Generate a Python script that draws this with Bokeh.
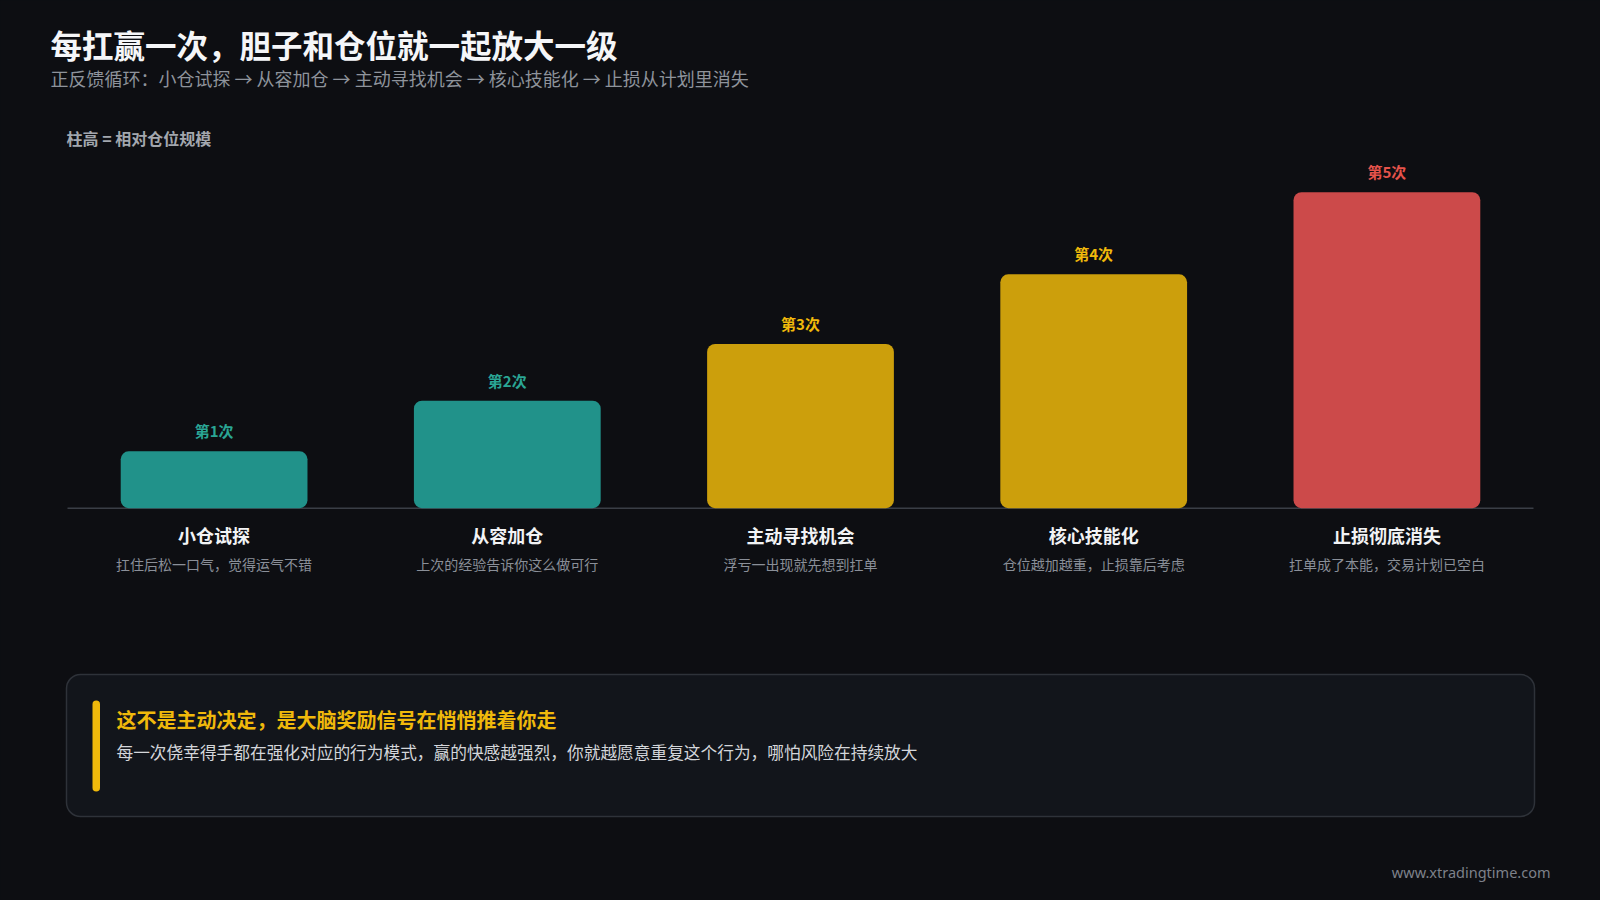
from bokeh.plotting import figure
from bokeh.models import (ColumnDataSource, Range1d, FactorRange, Label, BoxAnnotation,
                          GlobalInlineStyleSheet)
from bokeh.core.properties import value
from bokeh.embed import file_html
from bokeh.resources import INLINE

# ---------------- data ----------------
stages = ["小仓试探", "从容加仓", "主动寻找机会", "核心技能化", "止损彻底消失"]
position_size = [18, 34, 52, 74, 100]
win_labels = ["第1次", "第2次", "第3次", "第4次", "第5次"]
descriptions = ["扛住后松一口气，觉得运气不错", "上次的经验告诉你这么做可行",
                "浮亏一出现就先想到扛单", "仓位越加越重，止损靠后考虑",
                "扛单成了本能，交易计划已空白"]
bar_colors = ["#21928a", "#21928a", "#cc9f0c", "#cc9f0c", "#cc4a4a"]
label_colors = ["#2aa594", "#2aa594", "#f0b90b", "#f0b90b", "#e5534b"]

title = "每扛赢一次，胆子和仓位就一起放大一级"
subtitle = "正反馈循环：小仓试探 → 从容加仓 → 主动寻找机会 → 核心技能化 → 止损从计划里消失"
axis_note = "柱高 = 相对仓位规模"
callout_head = "这不是主动决定，是大脑奖励信号在悄悄推着你走"
callout_body = "每一次侥幸得手都在强化对应的行为模式，赢的快感越强烈，你就越愿意重复这个行为，哪怕风险在持续放大"
watermark = "www.xtradingtime.com"

# ---------------- layout ----------------
W, H = 1600, 900
BG = "#0d0e12"
FONT = "Noto Sans CJK SC"

def Y(y):  # top-down pixel -> screen units measured from bottom
    return H - y

baseline_px = 507.7
px_per_unit = 3.16
vstart = -(H - baseline_px) / px_per_unit
vend = baseline_px / px_per_unit
side_pad = 67 / 293.2

p = figure(width=W, height=H, output_backend="svg", toolbar_location=None,
           x_range=FactorRange(factors=stages, range_padding=side_pad,
                               range_padding_units="absolute"),
           y_range=Range1d(vstart, vend),
           min_border=0, min_border_left=0, min_border_right=0,
           min_border_top=0, min_border_bottom=0)
p.axis.visible = False
p.grid.visible = False
p.outline_line_color = None
p.background_fill_color = BG
p.border_fill_color = BG
p.stylesheets.append(GlobalInlineStyleSheet(css=f"html, body {{ background-color: {BG}; overflow: hidden; }}"))

src = ColumnDataSource(dict(stage=stages, size=position_size, win=win_labels,
                            desc=descriptions, color=bar_colors, lcolor=label_colors,
                            zero=[0] * len(stages)))

def box(left, right, top, bottom, **kw):
    b = BoxAnnotation(left=left, right=right, top=Y(top), bottom=Y(bottom),
                      left_units="screen", right_units="screen",
                      top_units="screen", bottom_units="screen",
                      fill_alpha=1.0, line_alpha=1.0, level="underlay", **kw)
    p.add_layout(b)
    return b

def label(x, y, text, color, size, bold=False, align="left", font=FONT):
    p.add_layout(Label(x=x, y=Y(y), x_units="screen", y_units="screen", text=text,
                       text_color=color, text_font=font, text_font_size=size,
                       text_font_style="bold" if bold else "normal",
                       text_align=align, text_baseline="middle"))

# baseline
box(67, 1533, baseline_px - 0.75, baseline_px + 0.75, fill_color="#3a3e46", line_color=None)

# bars
p.vbar(x="stage", top="size", bottom=0, width=0.637, source=src,
       fill_color="color", line_color=None, border_radius=8)

# win labels above bars
p.text(x="stage", y="size", text="win", source=src,
       text_color="lcolor", text_font=value(FONT), text_font_size="15px", text_font_style="bold",
       text_align="center", text_baseline="middle", y_offset=-20.5)

# stage names and descriptions
p.text(x="stage", y="zero", text="stage", source=src,
       text_color="#f2f3f5", text_font=value(FONT), text_font_size="18px", text_font_style="bold",
       text_align="center", text_baseline="middle", y_offset=27)
p.text(x="stage", y="zero", text="desc", source=src,
       text_color="#8a8f98", text_font=value(FONT), text_font_size="14px",
       text_align="center", text_baseline="middle", y_offset=56)

# titles
label(50, 43.5, title, "#f5f6f8", "31.5px", bold=True)
label(50, 77.8, subtitle, "#8e939b", "18px")
label(66, 137.5, axis_note, "#a3a7ae", "16px", bold=True)

# callout box
box(66, 1534, 674, 816, fill_color="#12151b", line_color="#2e3239", line_width=1.5,
    border_radius=14)
box(92, 99.5, 700, 791, fill_color="#f0b90b", line_color=None, border_radius=4)
label(116, 718.5, callout_head, "#f0b90b", "20px", bold=True)
label(116, 751, callout_body, "#d4d6da", "16.7px")

# watermark
label(1550, 871, watermark, "#7d818a", "14.5px", align="right", font="Noto Sans")

open("out.html", "w").write(file_html(p, INLINE))
